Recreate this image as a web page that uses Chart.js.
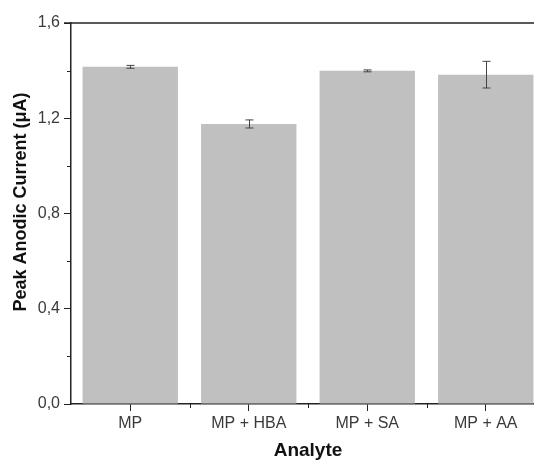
<!DOCTYPE html>
<html>
<head>
<meta charset="utf-8">
<script src="https://cdn.jsdelivr.net/npm/chart.js@4/dist/chart.umd.min.js"></script>
<style>
  html, body { margin: 0; padding: 0; overflow: hidden; background: #fff; }
  #wrap { width: 547px; height: 464px; }
</style>
</head>
<body>
<div id="wrap"><canvas id="chart"></canvas></div>
<script>
const categories = ["MP", "MP + HBA", "MP + SA", "MP + AA"];
const currents = [1.416, 1.176, 1.399, 1.383];
const errors = [0.006, 0.017, 0.004, 0.056];
const yTicks = [0, 0.4, 0.8, 1.2, 1.6];
const yTitle = "Peak Anodic Current (μA)";

const axisColor = "#222";
const textColor = "#3a3a3a";

// error bars, minor ticks, top frame line and the y title
const extrasPlugin = {
  id: "extras",
  afterDatasetsDraw(chart) {
    const ctx = chart.ctx;
    const y = chart.scales.y;
    const bars = chart.getDatasetMeta(0).data;
    ctx.save();
    ctx.strokeStyle = "#444";
    ctx.lineWidth = 1;
    bars.forEach((bar, i) => {
      const top = y.getPixelForValue(currents[i] + errors[i]);
      const bottom = y.getPixelForValue(currents[i] - errors[i]);
      const x = Math.round(bar.x) + 0.5;
      ctx.beginPath();
      ctx.moveTo(x, top);
      ctx.lineTo(x, bottom);
      ctx.moveTo(x - 4, top);
      ctx.lineTo(x + 4, top);
      ctx.moveTo(x - 4, bottom);
      ctx.lineTo(x + 4, bottom);
      ctx.stroke();
    });
    ctx.restore();
  },
  afterDraw(chart) {
    const ctx = chart.ctx;
    const area = chart.chartArea;
    const x = chart.scales.x;
    const y = chart.scales.y;
    ctx.save();
    ctx.strokeStyle = axisColor;
    ctx.lineWidth = 1.5;
    ctx.beginPath();
    ctx.moveTo(area.left - 7, area.top);
    ctx.lineTo(area.right, area.top);
    ctx.stroke();
    ctx.lineWidth = 1;
    ctx.beginPath();
    for (let i = 0; i < yTicks.length - 1; i++) {
      const py = Math.round(y.getPixelForValue((yTicks[i] + yTicks[i + 1]) / 2)) + 0.5;
      ctx.moveTo(area.left - 4, py);
      ctx.lineTo(area.left, py);
    }
    for (let i = 0; i < categories.length - 1; i++) {
      const px = Math.round((x.getPixelForTick(i) + x.getPixelForTick(i + 1)) / 2) + 0.5;
      ctx.moveTo(px, area.bottom);
      ctx.lineTo(px, area.bottom + 4);
    }
    ctx.stroke();

    // y title sits a bit above the axis middle in the original
    ctx.translate(21, 202);
    ctx.rotate(-Math.PI / 2);
    ctx.fillStyle = "#111";
    ctx.font = "bold 18px 'Liberation Sans'";
    ctx.textAlign = "center";
    ctx.textBaseline = "middle";
    ctx.fillText(yTitle, 0, 0);
    ctx.restore();
  }
};

new Chart(document.getElementById("chart"), {
  type: "bar",
  data: {
    labels: categories,
    datasets: [{
      data: currents,
      backgroundColor: "#c0c0c0",
      borderWidth: 0,
      categoryPercentage: 1,
      barPercentage: 0.805
    }]
  },
  options: {
    responsive: true,
    maintainAspectRatio: false,
    animation: false,
    layout: { padding: { top: 23, right: 2, left: 0, bottom: 0 } },
    plugins: { legend: { display: false }, tooltip: { enabled: false } },
    scales: {
      x: {
        afterFit(scale) { scale.height = 60; },
        grid: { offset: false, drawOnChartArea: false, drawTicks: true, tickLength: 7, color: axisColor },
        border: { display: true, color: axisColor, width: 1.5 },
        ticks: { color: textColor, padding: 3, font: { family: "Liberation Sans", size: 16 } },
        title: {
          display: true,
          text: "Analyte",
          color: "#111",
          padding: { top: 0, bottom: 2 },
          font: { family: "Liberation Sans", size: 19, weight: "bold" }
        }
      },
      y: {
        min: 0,
        max: 1.6,
        afterFit(scale) { scale.width = 71; },
        afterBuildTicks(scale) { scale.ticks = yTicks.map(v => ({ value: v })); },
        grid: { drawOnChartArea: false, drawTicks: true, tickLength: 7, color: axisColor },
        border: { display: true, color: axisColor, width: 1.5 },
        ticks: {
          color: textColor,
          padding: 4,
          font: { family: "Liberation Sans", size: 16 },
          callback: v => v.toFixed(1).replace(".", ",")
        }
      }
    }
  },
  plugins: [extrasPlugin]
});
</script>
</body>
</html>
